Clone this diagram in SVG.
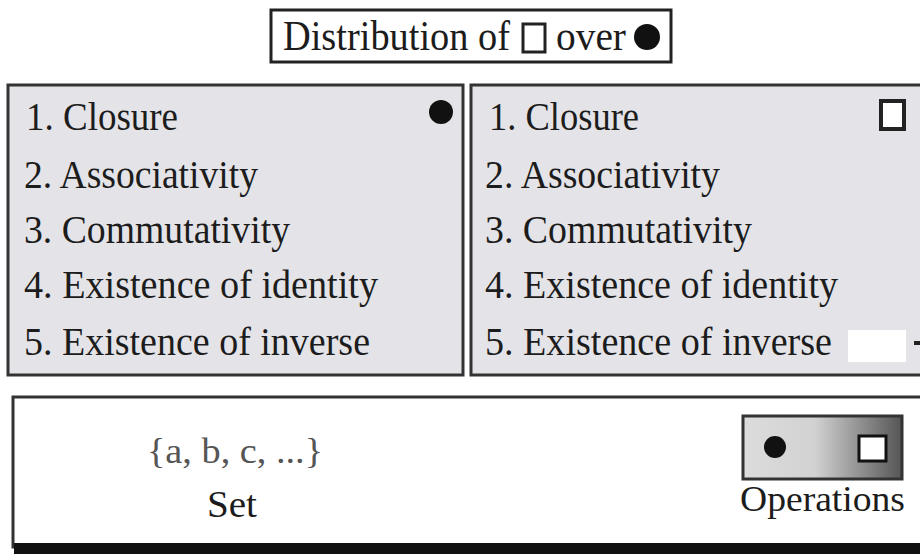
<svg xmlns="http://www.w3.org/2000/svg" width="920" height="554" viewBox="0 0 920 554">
<defs>
<style>
.t{font-family:"Liberation Serif","Times New Roman",serif;fill:#1c1c1c;}
.item{font-size:40px;}
.panel{fill:#e4e4e8;stroke:#333;stroke-width:3;}
</style>
<linearGradient id="opg" x1="0" y1="0" x2="1" y2="0">
<stop offset="0" stop-color="#dcdcdc"/>
<stop offset="0.45" stop-color="#d2d2d2"/>
<stop offset="1" stop-color="#555555"/>
</linearGradient>
</defs>
<rect width="920" height="554" fill="#ffffff"/>

<g id="title">
<rect x="271" y="10" width="400" height="52" fill="#ffffff" stroke="#222" stroke-width="3"/>
<text class="t" x="283" y="50" font-size="42" textLength="227" lengthAdjust="spacingAndGlyphs">Distribution of</text>
<rect x="523" y="24" width="22" height="28" fill="#ffffff" stroke="#222" stroke-width="3"/>
<text class="t" x="556" y="50" font-size="42" textLength="70" lengthAdjust="spacingAndGlyphs">over</text>
<circle cx="647" cy="37" r="13" fill="#111"/>
</g>

<g id="left-panel">
<rect class="panel" x="8" y="85" width="455" height="290"/>
<circle cx="441" cy="112" r="12" fill="#111"/>
<text class="t item" x="26" y="130" textLength="152" lengthAdjust="spacingAndGlyphs">1. Closure</text>
<text class="t item" x="24" y="188" textLength="234" lengthAdjust="spacingAndGlyphs">2. Associativity</text>
<text class="t item" x="24" y="243" textLength="266" lengthAdjust="spacingAndGlyphs">3. Commutativity</text>
<text class="t item" x="24" y="298" textLength="354" lengthAdjust="spacingAndGlyphs">4. Existence of identity</text>
<text class="t item" x="24" y="355" textLength="346" lengthAdjust="spacingAndGlyphs">5. Existence of inverse</text>
</g>

<g id="right-panel">
<rect class="panel" x="471" y="85" width="460" height="290" stroke-width="4"/>
<rect x="881" y="101" width="23" height="28" fill="#ffffff" stroke="#222" stroke-width="4"/>
<rect x="848" y="330" width="58" height="32" fill="#ffffff"/>
<rect x="914" y="341" width="6" height="4" fill="#222"/>
<text class="t item" x="489" y="130" textLength="150" lengthAdjust="spacingAndGlyphs">1. Closure</text>
<text class="t item" x="485" y="188" textLength="235" lengthAdjust="spacingAndGlyphs">2. Associativity</text>
<text class="t item" x="485" y="243" textLength="267" lengthAdjust="spacingAndGlyphs">3. Commutativity</text>
<text class="t item" x="485" y="298" textLength="353" lengthAdjust="spacingAndGlyphs">4. Existence of identity</text>
<text class="t item" x="485" y="355" textLength="347" lengthAdjust="spacingAndGlyphs">5. Existence of inverse</text>
</g>

<g id="bottom-panel">
<rect x="13" y="397" width="920" height="150" fill="#ffffff" stroke="#333" stroke-width="3"/>
<rect x="14" y="543" width="906" height="11" fill="#111"/>
</g>

<g id="set">
<text class="t" x="147" y="463" font-size="36" style="fill:#555" textLength="176" lengthAdjust="spacingAndGlyphs">{a, b, c, ...}</text>
<text class="t" x="207" y="517" font-size="38" textLength="50" lengthAdjust="spacingAndGlyphs">Set</text>
</g>

<g id="operations">
<rect x="743" y="416" width="159" height="63" fill="url(#opg)" stroke="#333" stroke-width="3"/>
<circle cx="775" cy="447" r="11" fill="#111"/>
<rect x="859" y="436" width="27" height="25" fill="#ffffff" stroke="#111" stroke-width="3"/>
<text class="t" x="740" y="511" font-size="36" textLength="165" lengthAdjust="spacingAndGlyphs">Operations</text>
</g>

<g id="connectors"></g>
</svg>
